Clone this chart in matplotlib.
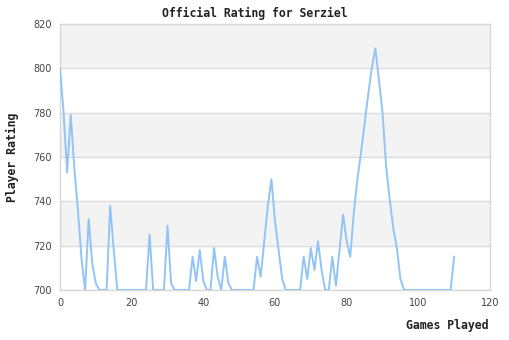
import matplotlib
matplotlib.use("Agg")
import matplotlib.pyplot as plt

# rating after each game
games = list(range(0, 111))
ratings = [
    800, 780, 753, 779, 755, 736, 714, 700, 732, 712,   # 0-9
    703, 700, 700, 700, 738, 718, 700, 700, 700, 700,   # 10-19
    700, 700, 700, 700, 700, 725, 700, 700, 700, 700,   # 20-29
    729, 703, 700, 700, 700, 700, 700, 715, 704, 718,   # 30-39
    704, 700, 700, 719, 706, 700, 715, 703, 700, 700,   # 40-49
    700, 700, 700, 700, 700, 715, 706, 722, 738, 750,   # 50-59
    731, 718, 705, 700, 700, 700, 700, 700, 715, 705,   # 60-69
    719, 709, 722, 709, 700, 700, 715, 702, 718, 734,   # 70-79
    722, 715, 735, 750, 762, 775, 788, 800, 809, 795,   # 80-89
    780, 756, 741, 728, 719, 705, 700, 700, 700, 700,   # 90-99
    700, 700, 700, 700, 700, 700, 700, 700, 700, 700,   # 100-109
    715,                                                # 110
]

title = "Official Rating for Serziel"
x_label = "Games Played"
y_label = "Player Rating"
x_ticks = [0, 20, 40, 60, 80, 100, 120]
y_ticks = [700, 720, 740, 760, 780, 800, 820]

fig = plt.figure(figsize=(5.1, 3.4), dpi=100)
ax = fig.add_axes([60 / 510, 1 - 290 / 340, 430 / 510, 266 / 340])

# alternating horizontal bands
for lo, hi in zip(y_ticks[:-1], y_ticks[1:]):
    if (lo - 700) // 20 % 2 == 1:
        ax.axhspan(lo, hi, color="#f3f3f3", lw=0, zorder=0)
for y in y_ticks:
    ax.axhline(y, color="#dcdcdc", lw=1, zorder=1)

ax.plot(games, ratings, color="#92c4f4", lw=1.4, zorder=3)

ax.set_xlim(0, 120)
ax.set_ylim(700, 820)
ax.set_xticks(x_ticks)
ax.set_yticks(y_ticks)
ax.tick_params(length=0, labelsize=7, colors="#444444", pad=6)
for s in ax.spines.values():
    s.set_color("#d8d8d8")
    s.set_linewidth(1)

mono = dict(family="DejaVu Sans Mono", weight="bold", size=8.3, color="#222222")
fig.text(255 / 510, 1 - 13 / 340, title, ha="center", va="center", **mono)
fig.text(489 / 510, 1 - 326 / 340, x_label, ha="right", va="center", **mono)
fig.text(12 / 510, 1 - 157 / 340, y_label, ha="center", va="center",
         rotation=90, **mono)

fig.savefig("out.png", dpi=100)
